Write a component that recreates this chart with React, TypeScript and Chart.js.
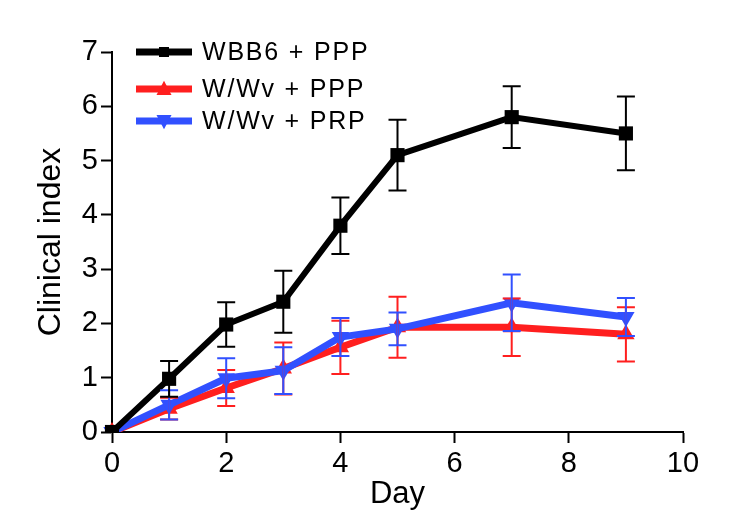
import React, { useEffect, useRef } from 'react';
import { Chart, registerables } from 'chart.js';

Chart.register(...registerables);

// ---- Data ----
const DAYS = [0, 1, 2, 3, 4, 5, 7, 9];

const WBB6_PPP = [0, 0.98, 1.98, 2.4, 3.8, 5.1, 5.8, 5.5];
const WBB6_PPP_ERR = [0, 0.33, 0.41, 0.57, 0.52, 0.65, 0.57, 0.68];

const WWV_PPP = [0, 0.43, 0.81, 1.17, 1.56, 1.93, 1.93, 1.8];
const WWV_PPP_ERR = [0, 0.2, 0.33, 0.48, 0.49, 0.56, 0.53, 0.5];

const WWV_PRP = [0, 0.5, 0.99, 1.13, 1.75, 1.9, 2.38, 2.12];
const WWV_PRP_ERR = [0, 0.27, 0.37, 0.43, 0.35, 0.3, 0.52, 0.35];

const SERIES_LABELS = ['WBB6 + PPP', 'W/Wv + PPP', 'W/Wv + PRP'];
const X_LABEL = 'Day';
const Y_LABEL = 'Clinical index';
const X_MIN = 0;
const X_MAX = 10;
const X_STEP = 2;
const Y_MIN = 0;
const Y_MAX = 7;
const Y_STEP = 1;

const BLACK = '#000000';
const RED = '#ff1f1f';
const BLUE = '#3150ff';
const FONT = "'Liberation Sans', Arial, Helvetica, sans-serif";

type Marker = 'square' | 'up' | 'down';

const SERIES = [
  { label: SERIES_LABELS[0], values: WBB6_PPP, errs: WBB6_PPP_ERR, color: BLACK, marker: 'square' as Marker },
  { label: SERIES_LABELS[1], values: WWV_PPP, errs: WWV_PPP_ERR, color: RED, marker: 'up' as Marker },
  { label: SERIES_LABELS[2], values: WWV_PRP, errs: WWV_PRP_ERR, color: BLUE, marker: 'down' as Marker },
];

function drawMarker(ctx: CanvasRenderingContext2D, m: Marker, x: number, y: number, s: number, color: string) {
  ctx.save();
  ctx.fillStyle = color;
  ctx.beginPath();
  if (m === 'square') {
    ctx.rect(x - s / 2, y - s / 2, s, s);
  } else if (m === 'up') {
    ctx.moveTo(x, y - s * 0.55);
    ctx.lineTo(x + s / 2, y + s * 0.4);
    ctx.lineTo(x - s / 2, y + s * 0.4);
    ctx.closePath();
  } else {
    ctx.moveTo(x, y + s * 0.55);
    ctx.lineTo(x + s / 2, y - s * 0.4);
    ctx.lineTo(x - s / 2, y - s * 0.4);
    ctx.closePath();
  }
  ctx.fill();
  ctx.restore();
}

const errorBarPlugin = {
  id: 'errorBars',
  afterDatasetsDraw(chart: any) {
    const { ctx } = chart;
    const xs = chart.scales.x;
    const ys = chart.scales.y;
    const order = [1, 2, 0];
    order.forEach((si) => {
      const s = SERIES[si];
      ctx.save();
      ctx.strokeStyle = s.color;
      ctx.lineWidth = 2;
      s.values.forEach((v, i) => {
        const e = s.errs[i];
        if (!e) return;
        const px = xs.getPixelForValue(DAYS[i]);
        const pt = ys.getPixelForValue(v + e);
        const pb = ys.getPixelForValue(v - e);
        ctx.beginPath();
        ctx.moveTo(px, pt);
        ctx.lineTo(px, pb);
        ctx.moveTo(px - 9, pt);
        ctx.lineTo(px + 9, pt);
        ctx.moveTo(px - 9, pb);
        ctx.lineTo(px + 9, pb);
        ctx.stroke();
      });
      ctx.restore();
    });
  },
};

const legendPlugin = {
  id: 'customLegend',
  afterDraw(chart: any) {
    const { ctx } = chart;
    const rows = [52, 89, 121];
    SERIES.forEach((s, i) => {
      const y = rows[i];
      ctx.save();
      ctx.strokeStyle = s.color;
      ctx.lineWidth = 7;
      ctx.beginPath();
      ctx.moveTo(136, y);
      ctx.lineTo(192, y);
      ctx.stroke();
      drawMarker(ctx, s.marker, 164, y, s.marker === 'square' ? 10 : 15, s.color);
      ctx.fillStyle = '#000';
      ctx.font = `25px ${FONT}`;
      (ctx as any).letterSpacing = '1.8px';
      ctx.textAlign = 'left';
      ctx.textBaseline = 'middle';
      ctx.fillText(s.label, 202, y + 1);
      ctx.restore();
    });
  },
};

export default function App() {
  const ref = useRef<HTMLCanvasElement | null>(null);

  useEffect(() => {
    if (!ref.current) return;
    const ds = (si: number, order: number) => {
      const s = SERIES[si];
      return {
        label: s.label,
        data: DAYS.map((d, i) => ({ x: d, y: s.values[i] })),
        borderColor: s.color,
        backgroundColor: s.color,
        borderWidth: si === 0 ? 6 : 7,
        pointStyle: s.marker === 'square' ? 'rect' : 'triangle',
        rotation: s.marker === 'down' ? 180 : 0,
        pointRadius: s.marker === 'square' ? 10 : 10,
        pointBorderWidth: 0,
        pointBackgroundColor: s.color,
        tension: 0,
        order,
        clip: { left: 12, top: 12, right: 12, bottom: 0 },
      };
    };
    const chart = new Chart(ref.current, {
      type: 'line',
      data: {
        datasets: [ds(0, 0), ds(1, 2), ds(2, 1)] as any,
      },
      options: {
        animation: false,
        responsive: false,
        maintainAspectRatio: false,
        layout: { padding: { left: 0, right: 59, top: 52, bottom: 0 } },
        plugins: {
          legend: { display: false },
          tooltip: { enabled: false },
        },
        scales: {
          x: {
            type: 'linear',
            min: X_MIN,
            max: X_MAX,
            ticks: {
              stepSize: X_STEP,
              color: '#000',
              font: { family: FONT, size: 29 },
              padding: 4,
              maxRotation: 0,
            },
            grid: {
              display: true,
              drawOnChartArea: false,
              drawTicks: true,
              tickLength: 11,
              tickColor: '#000',
              tickWidth: 2,
            },
            border: { display: true, color: '#000', width: 2 },
            title: {
              display: true,
              text: X_LABEL,
              color: '#000',
              font: { family: FONT, size: 31 },
              padding: { top: 0, bottom: 15 },
            },
            afterFit: (scale: any) => {
              scale.height = 96;
            },
          },
          y: {
            type: 'linear',
            min: Y_MIN,
            max: Y_MAX,
            ticks: {
              stepSize: Y_STEP,
              color: '#000',
              font: { family: FONT, size: 29 },
              padding: 3,
            },
            grid: {
              display: true,
              drawOnChartArea: false,
              drawTicks: true,
              tickLength: 11,
              tickColor: '#000',
              tickWidth: 2,
            },
            border: { display: true, color: '#000', width: 2 },
            title: {
              display: true,
              text: Y_LABEL,
              color: '#000',
              font: { family: FONT, size: 32 },
              padding: { top: 32, bottom: 0 },
            },
            afterFit: (scale: any) => {
              scale.width = 112;
            },
          },
        },
      } as any,
      plugins: [errorBarPlugin, legendPlugin],
    });
    return () => chart.destroy();
  }, []);

  return (
    <div style={{ position: 'absolute', left: 0, top: 0, width: 742, height: 528, background: '#fff' }}>
      <canvas ref={ref} width={742} height={528} style={{ display: 'block', width: 742, height: 528 }} />
    </div>
  );
}
